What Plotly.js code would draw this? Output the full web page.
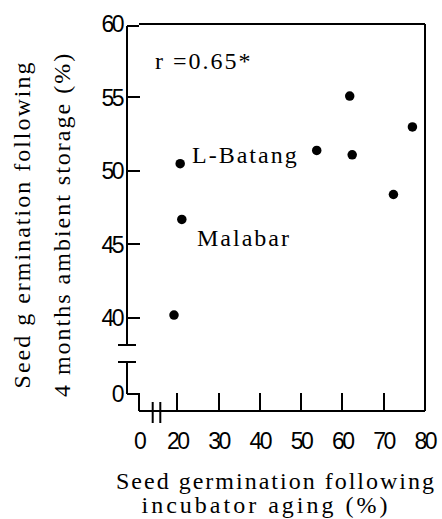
<!DOCTYPE html>
<html><head><meta charset="utf-8">
<script src="https://cdn.plot.ly/plotly-3.0.1.min.js"></script>
<style>
body{margin:0;background:#fff;}
.xtick text, .ytick text {letter-spacing:-2.5px;}
.g-xtitle text, .g-ytitle text, .annotation-text {letter-spacing:2px;}
</style></head><body>
<div id="chart" style="width:442px;height:519px;"></div>
<script>
// Seed germination following incubator aging (%)
const incubatorAging = [20.7, 61.8, 77.0, 53.8, 62.4, 21.1, 72.4, 19.2];
// Seed germination following 4 months ambient storage (%)
const ambientStorage = [50.5, 55.1, 53.0, 51.4, 51.1, 46.7, 48.4, 40.2];

const xTickVals = [10.75, 20, 30, 40, 50, 60, 70, 80];
const xTickText = ['0', '20', '30', '40', '50', '60', '70', '80'];
const yTickVals = [34.83, 40, 45, 50, 55, 60];
const yTickText = ['0', '40', '45', '50', '55', '60'];

const noteLabels = ['r =0.65*', 'L-Batang', 'Malabar'];

// plot-area pixel frame (for converting break marks to paper coords)
const L = 127, R = 425, T = 24, B = 411;
const px = x => (x - L) / (R - L);
const py = y => (B - y) / (B - T);
const seg = (x0, y0, x1, y1) => ({
  type: 'line', xref: 'paper', yref: 'paper',
  x0: px(x0), y0: py(y0), x1: px(x1), y1: py(y1),
  line: {color: '#000', width: 2}
});

const serif = {family: 'Liberation Serif', size: 24, color: '#000'};
const sans = {family: 'Liberation Sans', size: 23, color: '#000'};

const trace = {
  x: incubatorAging, y: ambientStorage, type: 'scatter', mode: 'markers',
  marker: {color: '#000', size: 9.5},
  hoverinfo: 'skip', showlegend: false
};

const layout = {
  width: 442, height: 519,
  margin: {l: 127, r: 17, t: 24, b: 108},
  paper_bgcolor: '#fff', plot_bgcolor: '#fff',
  showlegend: false,
  xaxis: {
    range: [7.81, 80.05], showgrid: false, zeroline: false, showline: false,
    tickmode: 'array', tickvals: xTickVals, ticktext: xTickText,
    ticks: 'inside', ticklen: 18, tickwidth: 2, tickcolor: '#000',
    ticklabelstandoff: 14,
    tickfont: sans,
    title: {text: 'Seed germination following<br>incubator aging (%)', font: serif, standoff: 26},
    automargin: false
  },
  yaxis: {
    range: [33.67, 60], showgrid: false, zeroline: false, showline: false,
    tickmode: 'array', tickvals: yTickVals, ticktext: yTickText,
    ticks: 'inside', ticklen: 13, tickwidth: 2, tickcolor: '#000',
    ticklabelstandoff: 4,
    tickfont: sans,
    title: {text: 'Seed g ermination following<br>4 months ambient storage (%)', font: serif, standoff: 32},
    automargin: false
  },
  shapes: [
    seg(139, 24, 425, 24),
    seg(425, 24, 425, 411),
    seg(139, 411, 425, 411),
    seg(127, 26, 127, 345),
    seg(127, 26, 139, 26),
    seg(118, 345, 136, 345),
    seg(118, 362, 136, 362),
    seg(127, 362, 127, 394),
    seg(152.7, 402, 152.7, 423),
    seg(160.3, 402, 160.3, 423)
  ],
  annotations: [
    {text: noteLabels[0], xref: 'paper', yref: 'paper', x: px(153), y: py(61), xanchor: 'left', yanchor: 'middle', showarrow: false, font: serif},
    {text: noteLabels[1], xref: 'paper', yref: 'paper', x: px(190), y: py(155), xanchor: 'left', yanchor: 'middle', showarrow: false, font: serif},
    {text: noteLabels[2], xref: 'paper', yref: 'paper', x: px(195), y: py(238), xanchor: 'left', yanchor: 'middle', showarrow: false, font: serif}
  ]
};

Plotly.newPlot('chart', [trace], layout, {staticPlot: true, displayModeBar: false}).then(gd => {
  const xl = gd.querySelectorAll('.g-xtitle tspan.line');
  if (xl.length > 1) {
    xl[1].setAttribute('dy', '1.0em');
    xl[1].style.letterSpacing = '3px';
    xl[1].setAttribute('x', parseFloat(xl[1].getAttribute('x')) - 10);
  }
  const xt = gd.querySelector('.g-xtitle text');
  if (xt) xt.setAttribute('y', parseFloat(xt.getAttribute('y')) + 6);
  xl.forEach(t => { if (t.getAttribute('y')) t.setAttribute('y', parseFloat(t.getAttribute('y')) + 6); });
  const yl = gd.querySelectorAll('.g-ytitle tspan.line');
  if (yl.length > 1) yl[1].setAttribute('dy', '1.67em');
  const yt = gd.querySelector('.g-ytitle');
  if (yt) yt.setAttribute('transform', 'translate(0,7)');
});
</script>
</body></html>
